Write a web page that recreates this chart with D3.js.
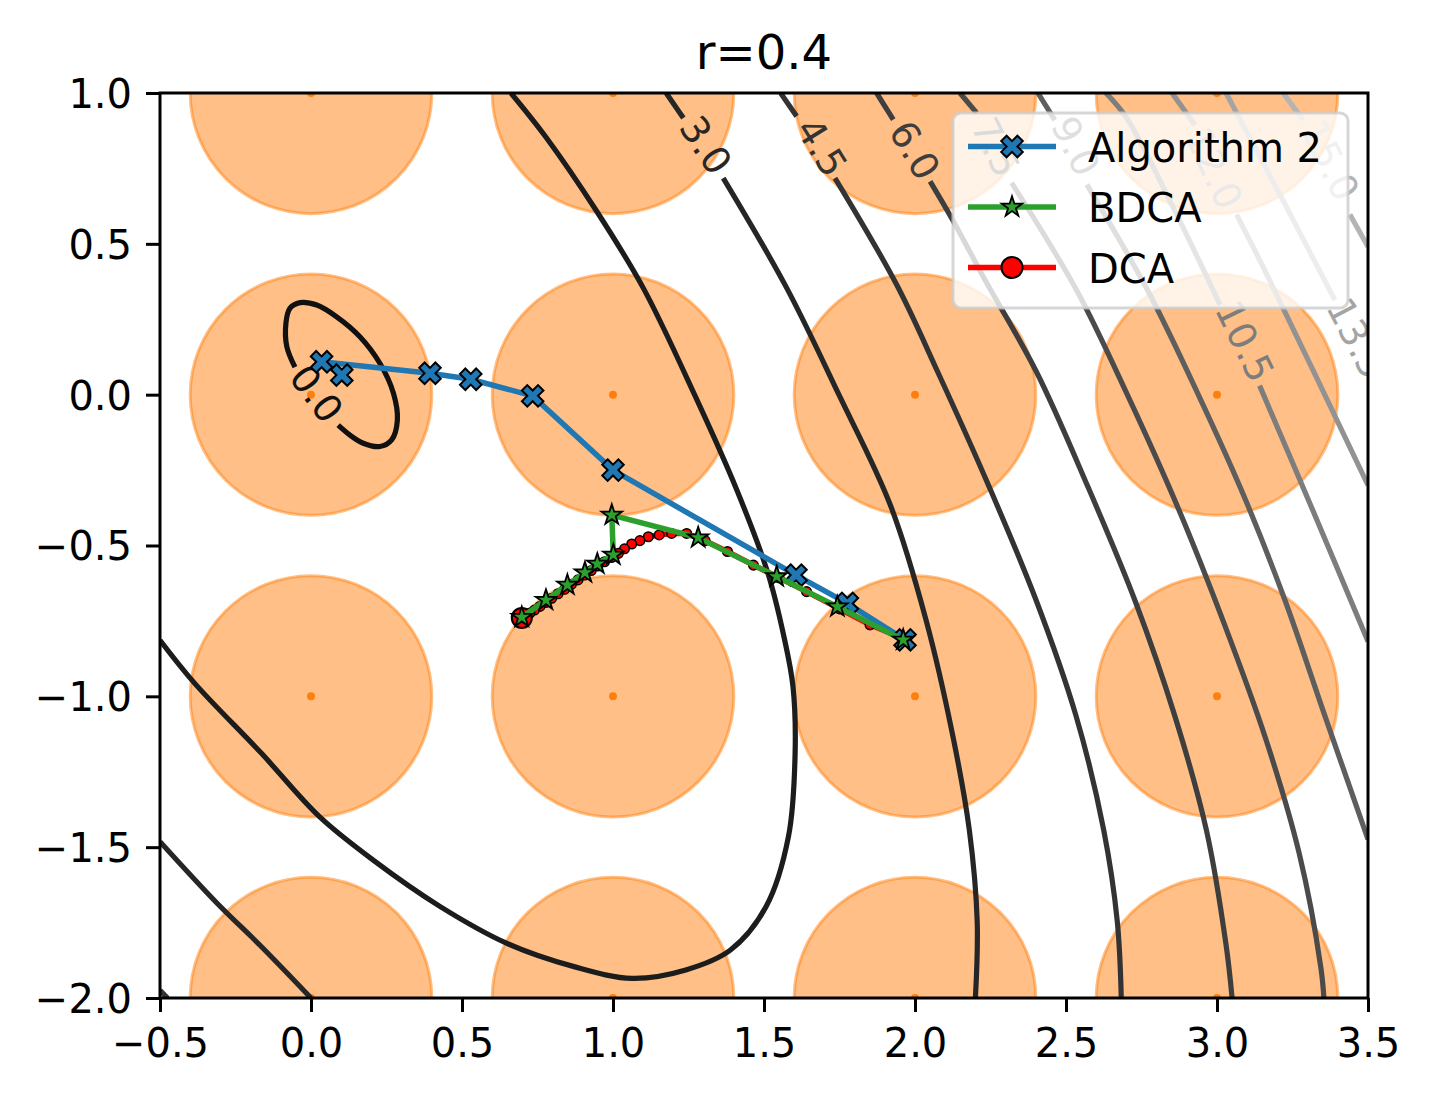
<!DOCTYPE html>
<html>
<head>
<meta charset="utf-8">
<script src="https://cdn.jsdelivr.net/npm/d3@7"></script>
<style>
  body { margin: 0; background: #fff; }
  svg { display: block; font-family: "DejaVu Sans", sans-serif; }
</style>
</head>
<body>
<div id="chart"></div>
<script>
// ---- values ----
var title = "r=0.4";
var radius = 0.4;
var centerX = [0, 1, 2, 3];
var centerY = [1, 0, -1, -2];

var xTicks = [-0.5, 0, 0.5, 1, 1.5, 2, 2.5, 3, 3.5];
var yTicks = [1, 0.5, 0, -0.5, -1, -1.5, -2];

// contour levels, each one as a list of pieces (the gaps hold the inline labels)
var levels = [0, 1.5, 3, 4.5, 6, 7.5, 9, 10.5, 12, 13.5, 15];
var levelColors = ["#111111", "#1c1c1c", "#262626", "#333333", "#3e3e3e", "#4b4b4b",
    "#5e5e5e", "#7d7d7d", "#929292", "#a4a4a4", "#b4b4b4"];

var contour0 = [
    [[-0.053, 0.091], [-0.080, 0.159], [-0.083, 0.237], [-0.070, 0.286], [-0.036, 0.305],
     [0.019, 0.297], [0.085, 0.258], [0.162, 0.192], [0.228, 0.104], [0.273, 0.005],
     [0.286, -0.084], [0.267, -0.150], [0.228, -0.172], [0.173, -0.161], [0.129, -0.134],
     [0.090, -0.101]]
];
var contour1_5 = [
    [[0.662, 1.0], [0.78, 0.851], [0.946, 0.608], [1.10, 0.354], [1.27, 0.0], [1.41, -0.316],
     [1.513, -0.592], [1.566, -0.802], [1.596, -0.968], [1.603, -1.189], [1.581, -1.465],
     [1.507, -1.697], [1.389, -1.841], [1.241, -1.907], [1.063, -1.935], [0.871, -1.896],
     [0.649, -1.819], [0.428, -1.697], [0.206, -1.543], [0.028, -1.399], [-0.164, -1.189],
     [-0.385, -0.957], [-0.5, -0.814]]
];
var contour3 = [
    [[1.176, 1.0], [1.233, 0.917]],
    [[1.365, 0.718], [1.575, 0.354], [1.748, 0.0], [1.918, -0.365], [2.036, -0.745],
     [2.127, -1.14], [2.18, -1.444], [2.206, -1.748], [2.2, -2.0]],
    [[-0.5, -1.482], [-0.311, -1.686], [-0.164, -1.83], [0.0, -2.0]]
];
var contour4_5 = [
    [[1.555, 1.0], [1.608, 0.923]],
    [[1.735, 0.718], [1.939, 0.365], [2.075, 0.076], [2.245, -0.304], [2.402, -0.684],
     [2.533, -1.064], [2.625, -1.444], [2.67, -1.748], [2.683, -2.0]],
    [[-0.5, -1.975], [-0.475, -2.0]]
];
var contour6 = [
    [[1.873, 1.0], [1.928, 0.912]],
    [[2.05, 0.707], [2.127, 0.575], [2.232, 0.38], [2.402, 0.076], [2.572, -0.304],
     [2.729, -0.684], [2.86, -1.064], [2.965, -1.444], [3.03, -1.824], [3.05, -2.0]]
];
var contour7_5 = [
    [[2.149, 1.0], [2.204, 0.934]],
    [[2.32, 0.702], [2.533, 0.35], [2.703, 0.0], [2.873, -0.38], [3.024, -0.76],
     [3.161, -1.14], [3.272, -1.52], [3.344, -1.9], [3.354, -2.0]]
];
var contour9 = [
    [[2.407, 1.0], [2.463, 0.91]],
    [[2.569, 0.696], [2.768, 0.35], [2.938, 0.0], [3.095, -0.35], [3.226, -0.684],
     [3.357, -1.064], [3.5, -1.474]]
];
var contour10_5 = [
    [[2.632, 1.0], [2.701, 0.917], [2.86, 0.61], [3.01, 0.298]],
    [[3.141, 0.03], [3.32, -0.39], [3.5, -0.818]]
];
var contour12 = [
    [[2.851, 1.0], [2.927, 0.894]],
    [[3.065, 0.597], [3.174, 0.38], [3.5, -0.30]]
];
var contour13_5 = [
    [[3.03, 1.0], [3.21, 0.66], [3.39, 0.314]]
];
var contour15 = [
    [[3.219, 1.0], [3.285, 0.91]],
    [[3.44, 0.597], [3.5, 0.49]]
];
var contourLines = [contour0, contour1_5, contour3, contour4_5, contour6, contour7_5,
    contour9, contour10_5, contour12, contour13_5, contour15];

// inline labels: [level, x, y]
var contourLabels = [
    [0, 0.019, 0.004], [3, 1.308, 0.828], [4.5, 1.692, 0.821], [6, 2.0, 0.811],
    [7.5, 2.268, 0.821], [9, 2.533, 0.824], [10.5, 3.093, 0.178], [12, 2.99, 0.751],
    [13.5, 3.464, 0.188], [15, 3.374, 0.778]
];

// iterates of the three methods
var seriesNames = ["Algorithm 2", "BDCA", "DCA"];
var alg2X = [1.967, 1.776, 1.606, 1.0, 0.734, 0.529, 0.394, 0.035, 0.102];
var alg2Y = [-0.813, -0.692, -0.598, -0.25, -0.004, 0.051, 0.071, 0.109, 0.065];
var bdcaX = [1.961, 1.743, 1.542, 1.282, 0.996, 1.001, 0.948, 0.907, 0.849, 0.778, 0.698];
var bdcaY = [-0.813, -0.703, -0.603, -0.474, -0.399, -0.531, -0.561, -0.590, -0.631, -0.681, -0.738];
var dcaX = [1.961, 1.851, 1.75, 1.641, 1.55, 1.465, 1.379, 1.305, 1.244, 1.194, 1.153, 1.117,
    1.089, 1.062, 1.038, 1.018, 0.995, 0.972, 0.950, 0.928, 0.906, 0.884, 0.862, 0.840,
    0.818, 0.797, 0.777, 0.758, 0.740, 0.725, 0.712, 0.703, 0.698];
var dcaY = [-0.808, -0.763, -0.71, -0.653, -0.607, -0.565, -0.520, -0.484, -0.460, -0.460,
    -0.465, -0.471, -0.484, -0.495, -0.511, -0.526, -0.540, -0.554, -0.568, -0.583, -0.598,
    -0.614, -0.629, -0.645, -0.660, -0.675, -0.689, -0.702, -0.714, -0.724, -0.732, -0.737, -0.740];

// ---- drawing ----
var width = 1431, height = 1098;
var axLeft = 160, axRight = 1368, axTop = 93, axBottom = 998;

var svg = d3.select("#chart").append("svg")
    .attr("width", width)
    .attr("height", height);

var x = d3.scaleLinear().domain([-0.5, 3.5]).range([axLeft, axRight]);
var y = d3.scaleLinear().domain([-2, 1]).range([axBottom, axTop]);

svg.append("clipPath").attr("id", "plotArea")
    .append("rect")
    .attr("x", axLeft).attr("y", axTop)
    .attr("width", axRight - axLeft).attr("height", axBottom - axTop);

var plot = svg.append("g").attr("clip-path", "url(#plotArea)");

// orange discs of radius r round the lattice points
var centers = d3.cross(centerX, centerY);
plot.selectAll("ellipse.disc")
    .data(centers)
    .join("ellipse")
    .attr("class", "disc")
    .attr("cx", function (d) { return x(d[0]); })
    .attr("cy", function (d) { return y(d[1]); })
    .attr("rx", x(radius) - x(0))
    .attr("ry", y(0) - y(radius))
    .style("fill", "#ff7f0e")
    .style("fill-opacity", 0.5)
    .style("stroke", "#ff7f0e")
    .style("stroke-opacity", 0.5)
    .style("stroke-width", 3);
plot.selectAll("circle.center")
    .data(centers)
    .join("circle")
    .attr("class", "center")
    .attr("cx", function (d) { return x(d[0]); })
    .attr("cy", function (d) { return y(d[1]); })
    .attr("r", 4)
    .style("fill", "#ff7f0e");

// contour lines
var contourPath = d3.line()
    .x(function (d) { return x(d[0]); })
    .y(function (d) { return y(d[1]); })
    .curve(d3.curveCatmullRom.alpha(0.5));

levels.forEach(function (lv, i) {
    contourLines[i].forEach(function (piece) {
        plot.append("path")
            .attr("d", contourPath(piece))
            .style("fill", "none")
            .style("stroke", levelColors[i])
            .style("stroke-width", 5.2)
            .style("stroke-linecap", "butt");
    });
});

// label angle follows the gap the label sits in
function labelAngle(lv, lx, ly) {
    var pieces = contourLines[levels.indexOf(lv)];
    var ends = [];
    pieces.forEach(function (p) {
        ends.push({ pt: p[0], nb: p[1] });
        ends.push({ pt: p[p.length - 1], nb: p[p.length - 2] });
    });
    var px = x(lx), py = y(ly);
    ends.forEach(function (e) {
        e.dist = Math.hypot(x(e.pt[0]) - px, y(e.pt[1]) - py);
    });
    ends.sort(function (a, b) { return a.dist - b.dist; });
    var a = ends[0], b = ends[1];
    var dx, dy;
    if (b && b.dist < 90) {
        dx = x(b.pt[0]) - x(a.pt[0]); dy = y(b.pt[1]) - y(a.pt[1]);
    } else {
        dx = x(a.pt[0]) - x(a.nb[0]); dy = y(a.pt[1]) - y(a.nb[1]);
    }
    var ang = Math.atan2(dy, dx) * 180 / Math.PI;
    if (ang > 90) ang -= 180;
    if (ang < -90) ang += 180;
    return ang;
}

plot.selectAll("text.clabel")
    .data(contourLabels)
    .join("text")
    .attr("class", "clabel")
    .attr("transform", function (d) {
        return "translate(" + x(d[1]) + "," + y(d[2]) + ") rotate(" + labelAngle(d[0], d[1], d[2]) + ")";
    })
    .attr("text-anchor", "middle")
    .attr("dy", "0.36em")
    .style("font-size", "38px")
    .style("fill", function (d) { return levelColors[levels.indexOf(d[0])]; })
    .text(function (d) { return d3.format(".1f")(d[0]); });

// trajectories
var traj = d3.line()
    .x(function (d) { return x(d[0]); })
    .y(function (d) { return y(d[1]); });

var alg2 = d3.zip(alg2X, alg2Y);
var bdca = d3.zip(bdcaX, bdcaY);
var dca = d3.zip(dcaX, dcaY);

var crossSym = d3.symbol().type(d3.symbolCross).size(290);
var starSym = d3.symbol().type(d3.symbolStar).size(130);

// DCA
plot.append("path").attr("d", traj(dca))
    .style("fill", "none").style("stroke", "red").style("stroke-width", 5.5);
plot.selectAll("circle.dca")
    .data(dca.slice(0, dca.length - 1))
    .join("circle")
    .attr("class", "dca")
    .attr("cx", function (d) { return x(d[0]); })
    .attr("cy", function (d) { return y(d[1]); })
    .attr("r", 4.8)
    .style("fill", "red").style("stroke", "#000").style("stroke-width", 1.5);
plot.append("circle")
    .attr("cx", x(dca[dca.length - 1][0]))
    .attr("cy", y(dca[dca.length - 1][1]))
    .attr("r", 10)
    .style("fill", "red").style("stroke", "#000").style("stroke-width", 2);

// Algorithm 2
plot.append("path").attr("d", traj(alg2))
    .style("fill", "none").style("stroke", "#1f77b4").style("stroke-width", 5.5);
plot.selectAll("path.alg2")
    .data(alg2)
    .join("path")
    .attr("class", "alg2")
    .attr("d", crossSym)
    .attr("transform", function (d) { return "translate(" + x(d[0]) + "," + y(d[1]) + ") rotate(45)"; })
    .style("fill", "#1f77b4").style("stroke", "#000").style("stroke-width", 2);

// BDCA
plot.append("path").attr("d", traj(bdca))
    .style("fill", "none").style("stroke", "#2ca02c").style("stroke-width", 5.5);
plot.selectAll("path.bdca")
    .data(bdca)
    .join("path")
    .attr("class", "bdca")
    .attr("d", starSym)
    .attr("transform", function (d) { return "translate(" + x(d[0]) + "," + y(d[1]) + ")"; })
    .style("fill", "#2ca02c").style("stroke", "#000").style("stroke-width", 1.8);

// axes
var fmt = d3.format(".1f");
var xAxis = svg.append("g")
    .attr("transform", "translate(0," + axBottom + ")")
    .call(d3.axisBottom(x).tickValues(xTicks).tickFormat(fmt).tickSize(14).tickSizeOuter(0).tickPadding(17));
var yAxis = svg.append("g")
    .attr("transform", "translate(" + axLeft + ",0)")
    .call(d3.axisLeft(y).tickValues(yTicks).tickFormat(fmt).tickSize(14).tickSizeOuter(0).tickPadding(14));
[xAxis, yAxis].forEach(function (ax) {
    ax.select(".domain").remove();
    ax.selectAll("line").style("stroke", "#000").style("stroke-width", 3);
    ax.selectAll("text")
        .style("font-size", "40px")
        .style("fill", "#000")
        .style("font-family", "DejaVu Sans, sans-serif");
});
yAxis.selectAll("text").attr("dy", "0.36em");

svg.append("rect")
    .attr("x", axLeft).attr("y", axTop)
    .attr("width", axRight - axLeft).attr("height", axBottom - axTop)
    .style("fill", "none").style("stroke", "#000").style("stroke-width", 3);

// title
svg.append("text")
    .attr("x", (axLeft + axRight) / 2)
    .attr("y", 69)
    .attr("text-anchor", "middle")
    .style("font-size", "48px")
    .style("fill", "#000")
    .text(title);

// legend
var legend = svg.append("g").attr("transform", "translate(953,113)");
legend.append("rect")
    .attr("width", 395).attr("height", 195)
    .attr("rx", 8).attr("ry", 8)
    .style("fill", "#fff").style("fill-opacity", 0.8)
    .style("stroke", "#cccccc").style("stroke-opacity", 0.8).style("stroke-width", 3);

var legendColors = ["#1f77b4", "#2ca02c", "red"];
seriesNames.forEach(function (name, i) {
    var row = legend.append("g").attr("transform", "translate(0," + (33.5 + i * 60.5) + ")");
    row.append("line")
        .attr("x1", 15).attr("x2", 103)
        .style("stroke", legendColors[i]).style("stroke-width", 5.5);
    if (i === 0) {
        row.append("path").attr("d", crossSym)
            .attr("transform", "translate(59,0) rotate(45)")
            .style("fill", legendColors[i]).style("stroke", "#000").style("stroke-width", 2);
    } else if (i === 1) {
        row.append("path").attr("d", starSym)
            .attr("transform", "translate(59,0)")
            .style("fill", legendColors[i]).style("stroke", "#000").style("stroke-width", 1.8);
    } else {
        row.append("circle").attr("cx", 59).attr("r", 10.5)
            .style("fill", legendColors[i]).style("stroke", "#000").style("stroke-width", 2);
    }
    row.append("text")
        .attr("x", 135).attr("y", 15)
        .style("font-size", "40px")
        .style("fill", "#000")
        .text(name);
});
</script>
</body>
</html>
